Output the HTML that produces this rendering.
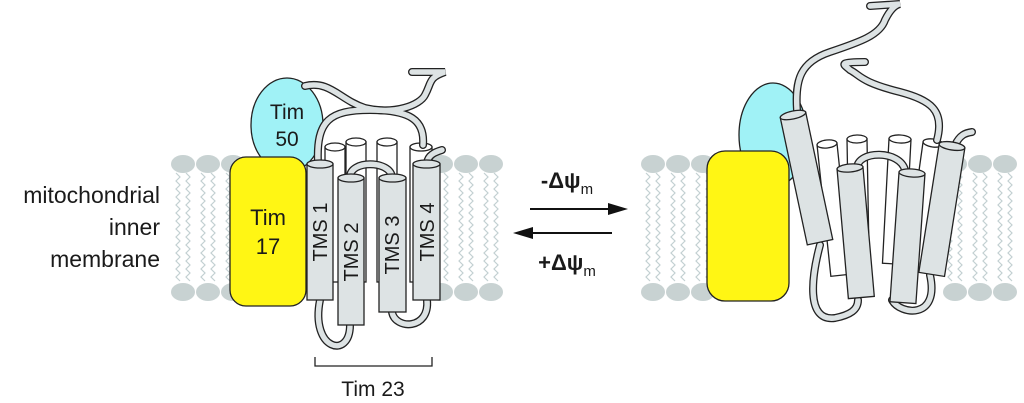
<!DOCTYPE html>
<html><head><meta charset="utf-8"><style>
html,body{margin:0;padding:0;background:#fff;}
svg{display:block}
text{font-family:"Liberation Sans",sans-serif;fill:#1a1a1a}
</style></head><body>
<svg id="s" width="1024" height="403" viewBox="0 0 1024 403" xmlns="http://www.w3.org/2000/svg">
<g id="mem"></g>
<text x="160" y="203" font-size="23" text-anchor="end">mitochondrial</text>
<text x="160" y="235" font-size="23" text-anchor="end">inner</text>
<text x="160" y="267" font-size="23" text-anchor="end">membrane</text>

<ellipse cx="287" cy="125" rx="36" ry="47" fill="#a0f2f6" stroke="#222" stroke-width="1.3"/>
<text x="287" y="119" font-size="21" text-anchor="middle">Tim</text>
<text x="287" y="146" font-size="21" text-anchor="middle">50</text>
<g fill="#fff" stroke="#222" stroke-width="1.3">
<rect x="325" y="147" width="20" height="135"/><ellipse cx="335" cy="147" rx="10" ry="4"/>
<rect x="346" y="142" width="20" height="140"/><ellipse cx="356" cy="142" rx="10" ry="4"/>
<rect x="377" y="142" width="20" height="140"/><ellipse cx="387" cy="142" rx="10" ry="4"/>
<rect x="410" y="147" width="22" height="135"/><ellipse cx="421" cy="147" rx="11" ry="4"/>
</g>
<g fill="none" stroke-linecap="round">
<g stroke="#222" stroke-width="8">
<path d="M318 163 C316 120 330 110 370 110 C410 110 425 120 423 145"/>
<path d="M305 86 C330 80 340 100 365 108 C395 115 420 105 425 95 C432 82 428 78 445 72 L412 72"/>
<path d="M320 300 C310 350 350 360 350 325"/>
<path d="M392 312 C395 330 430 330 427 300"/>
<path d="M350 177 C350 160 390 160 392 177"/>
<path d="M427 163 C428 155 435 152 442 150"/>
</g>
<g stroke="#dde3e4" stroke-width="5.4">
<path d="M318 163 C316 120 330 110 370 110 C410 110 425 120 423 145"/>
<path d="M305 86 C330 80 340 100 365 108 C395 115 420 105 425 95 C432 82 428 78 445 72 L412 72"/>
<path d="M320 300 C310 350 350 360 350 325"/>
<path d="M392 312 C395 330 430 330 427 300"/>
<path d="M350 177 C350 160 390 160 392 177"/>
<path d="M427 163 C428 155 435 152 442 150"/>
</g></g>
<rect x="230" y="157" width="76" height="149" rx="16" fill="#fff614" stroke="#222" stroke-width="1.3"/>
<text x="268" y="225" font-size="22" text-anchor="middle">Tim</text>
<text x="268" y="254" font-size="22" text-anchor="middle">17</text>
<g fill="#dde3e4" stroke="#222" stroke-width="1.3">
<rect x="307" y="164" width="26" height="136"/><ellipse cx="320" cy="164" rx="13" ry="4"/>
<rect x="338" y="178" width="26" height="147"/><ellipse cx="351" cy="178" rx="13" ry="4"/>
<rect x="379" y="178" width="27" height="134"/><ellipse cx="392.5" cy="178" rx="13.5" ry="4"/>
<rect x="413" y="164" width="27" height="136"/><ellipse cx="426.5" cy="164" rx="13.5" ry="4"/>
</g>
<g font-size="20">
<text transform="translate(327 232) rotate(-90)" text-anchor="middle">TMS 1</text>
<text transform="translate(358 252) rotate(-90)" text-anchor="middle">TMS 2</text>
<text transform="translate(399 245) rotate(-90)" text-anchor="middle">TMS 3</text>
<text transform="translate(434 232) rotate(-90)" text-anchor="middle">TMS 4</text>
</g>
<path d="M315 357 V366 H432 V357" fill="none" stroke="#222" stroke-width="1.3"/>
<text x="373" y="396" font-size="21" text-anchor="middle">Tim 23</text>

<text x="567" y="188" font-size="22" font-weight="bold" text-anchor="middle">-Δψ<tspan font-size="15" font-weight="normal" dy="6">m</tspan></text>
<line x1="530" y1="209" x2="612" y2="209" stroke="#111" stroke-width="2"/>
<polygon points="628,209 608,203 608,215" fill="#111"/>
<line x1="528" y1="233" x2="612" y2="233" stroke="#111" stroke-width="2"/>
<polygon points="513,233 533,227 533,239" fill="#111"/>
<text x="567" y="270" font-size="22" font-weight="bold" text-anchor="middle">+Δψ<tspan font-size="15" font-weight="normal" dy="6">m</tspan></text>

<ellipse cx="773" cy="135" rx="34" ry="52" fill="#a0f2f6" stroke="#222" stroke-width="1.3"/>
<g fill="#fff" stroke="#222" stroke-width="1.3">
<g transform="translate(827 144) rotate(-6)"><rect x="-10" y="0" width="20" height="132"/><ellipse cx="0" cy="0" rx="10" ry="4"/></g>
<g transform="translate(857 139) rotate(-1)"><rect x="-10" y="0" width="20" height="130"/><ellipse cx="0" cy="0" rx="10" ry="4"/></g>
<g transform="translate(900 139) rotate(3)"><rect x="-11" y="0" width="22" height="125"/><ellipse cx="0" cy="0" rx="11" ry="4"/></g>
<g transform="translate(933 143) rotate(8)"><rect x="-10" y="0" width="20" height="125"/><ellipse cx="0" cy="0" rx="10" ry="4"/></g>
</g>
<g fill="none" stroke-linecap="round">
<g stroke="#222" stroke-width="8">
<path d="M797 110 C795 80 800 62 830 52 C860 42 880 35 885 20 C890 10 895 5 900 4 L870 6"/>
<path d="M937 140 C945 110 930 100 900 92 C860 82 860 75 850 70 C845 65 835 62 865 62"/>
<path d="M820 245 C812 275 805 322 835 318 C850 315 858 310 858 300"/>
<path d="M892 300 C900 315 940 320 930 275"/>
<path d="M857 168 C858 150 900 150 905 170"/>
<path d="M955 145 C960 135 965 133 972 132"/>
</g>
<g stroke="#dde3e4" stroke-width="5.4">
<path d="M797 110 C795 80 800 62 830 52 C860 42 880 35 885 20 C890 10 895 5 900 4 L870 6"/>
<path d="M937 140 C945 110 930 100 900 92 C860 82 860 75 850 70 C845 65 835 62 865 62"/>
<path d="M820 245 C812 275 805 322 835 318 C850 315 858 310 858 300"/>
<path d="M892 300 C900 315 940 320 930 275"/>
<path d="M857 168 C858 150 900 150 905 170"/>
<path d="M955 145 C960 135 965 133 972 132"/>
</g></g>
<rect x="707" y="151" width="82" height="150" rx="18" fill="#fff614" stroke="#222" stroke-width="1.3"/>
<g fill="#dde3e4" stroke="#222" stroke-width="1.3">
<g transform="translate(793 115) rotate(-12)"><rect x="-13" y="0" width="26" height="130"/><ellipse cx="0" cy="0" rx="13" ry="4"/></g>
<g transform="translate(850 168) rotate(-5)"><rect x="-13" y="0" width="26" height="130"/><ellipse cx="0" cy="0" rx="13" ry="4"/></g>
<g transform="translate(912 173) rotate(4)"><rect x="-13" y="0" width="26" height="130"/><ellipse cx="0" cy="0" rx="13" ry="4"/></g>
<g transform="translate(952 146) rotate(9)"><rect x="-13" y="0" width="26" height="130"/><ellipse cx="0" cy="0" rx="13" ry="4"/></g>
</g>
</svg>
<script>
(function(){
var ns="http://www.w3.org/2000/svg",g=document.getElementById("mem");
var xs=[183,208,233,441,466,491,653,678,703,955,980,1005];
function zig(x){var p="",y=173,i=0;for(;y<=284;y+=4,i++){p+=(x+(i%2?2:-2))+","+y+" ";}
var l=document.createElementNS(ns,"polyline");l.setAttribute("points",p);l.setAttribute("fill","none");l.setAttribute("stroke","#c3d0d2");l.setAttribute("stroke-width","1.2");g.appendChild(l);}
xs.forEach(function(x){[164,292].forEach(function(y){var e=document.createElementNS(ns,"ellipse");e.setAttribute("cx",x);e.setAttribute("cy",y);e.setAttribute("rx",12);e.setAttribute("ry",9);e.setAttribute("fill","#c8d2d2");g.appendChild(e);});zig(x-5);zig(x+5);});
})();
</script>
</body></html>
